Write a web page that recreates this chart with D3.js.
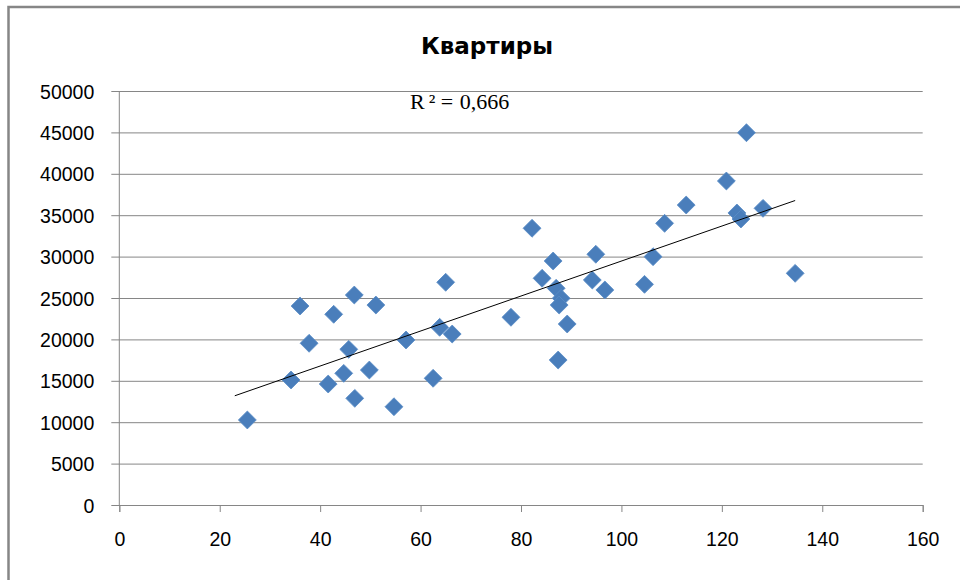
<!DOCTYPE html>
<html>
<head>
<meta charset="utf-8">
<script src="https://cdn.jsdelivr.net/npm/d3@7"></script>
<style>
  html, body { margin: 0; padding: 0; background: #fff; }
  svg { display: block; }
</style>
</head>
<body>
<svg id="chart" width="960" height="580"></svg>
<script>
// ---- data ----
const title = "Квартиры";
const r2Parts = ["R", "²", " = ", "0,666"];
const area = [25.5, 34.2, 36.0, 37.8, 41.6, 42.7, 44.7, 45.7, 46.8, 46.9,
              49.8, 51.1, 54.7, 57.1, 62.5, 63.8, 65.0, 66.3, 78.0, 82.2,
              84.2, 86.4, 87.0, 88.0, 87.6, 89.2, 87.4, 94.2, 94.9, 96.7,
              104.6, 106.3, 108.6, 112.9, 120.9, 124.9, 123.0, 123.8, 128.2, 134.6];
const price = [10270, 15100, 24030, 19530, 14610, 23030, 15900, 18800, 25360, 12880,
               16300, 24150, 11870, 19930, 15300, 21460, 26900, 20650, 22670, 33420,
               27380, 29470, 26170, 24960, 24150, 21860, 17510, 27170, 30280, 25970,
               26650, 29990, 34020, 36230, 39130, 44960, 35270, 34540, 35830, 27980];
const xTicks = [0, 20, 40, 60, 80, 100, 120, 140, 160];
const yTicks = [0, 5000, 10000, 15000, 20000, 25000, 30000, 35000, 40000, 45000, 50000];
const trendStartX = 23;

// ---- layout ----
const svg = d3.select("#chart");
const pL = 119.3, pR = 922.7, pT = 91, pB = 505;
const x = d3.scaleLinear().domain([0, 160]).range([pL, pR]);
const y = d3.scaleLinear().domain([0, 50000]).range([pB, pT]);
const gridColor = "#868686";

// outer chart border (only left and top visible)
svg.append("rect").attr("x", 8.5).attr("y", 7).attr("width", 1000).attr("height", 1000)
  .attr("fill", "none").attr("stroke", gridColor).attr("stroke-width", 2.5);

// title
svg.append("text").attr("x", 487).attr("y", 54).attr("text-anchor", "middle")
  .attr("font-family", "DejaVu Sans").attr("font-weight", "bold").attr("font-size", 23)
  .attr("fill", "#000").text(title);

// y axis with gridlines
const yAxis = d3.axisLeft(y).tickValues(yTicks).tickSize(-(pR - pL)).tickFormat(d3.format("d"));
const gy = svg.append("g").attr("transform", `translate(${pL},0)`).call(yAxis);
gy.select(".domain").remove();
gy.selectAll(".tick line").attr("stroke", gridColor).attr("stroke-width", 1).attr("x1", -8);
gy.selectAll(".tick text").attr("font-family", "Liberation Sans").attr("font-size", 19.5)
  .attr("fill", "#000").attr("x", -25).attr("dy", "0.36em");

// plot area left line
svg.append("line").attr("x1", pL).attr("x2", pL).attr("y1", pT).attr("y2", pB)
  .attr("stroke", gridColor).attr("stroke-width", 1);

// x axis
const xAxis = d3.axisBottom(x).tickValues(xTicks).tickSize(7).tickPadding(20).tickFormat(d3.format("d"));
const gx = svg.append("g").attr("transform", `translate(0,${pB})`).call(xAxis);
gx.select(".domain").attr("stroke", gridColor);
gx.selectAll(".tick line").attr("stroke", gridColor);
gx.selectAll(".tick text").attr("font-family", "Liberation Sans").attr("font-size", 19.5)
  .attr("fill", "#000");

// linear regression
const n = area.length;
const mx = d3.mean(area), my = d3.mean(price);
let sxy = 0, sxx = 0;
for (let i = 0; i < n; i++) { sxy += (area[i] - mx) * (price[i] - my); sxx += (area[i] - mx) ** 2; }
const slope = sxy / sxx, intercept = my - slope * mx;
const xMax = d3.max(area);

// points
const pts = area.map((a, i) => ({ a, p: price[i] }));
svg.append("g").selectAll("path").data(pts).join("path")
  .attr("d", d3.symbol(d3.symbolSquare, 160)())
  .attr("transform", d => `translate(${x(d.a)},${y(d.p)}) rotate(45)`)
  .attr("fill", "#4a7ebb").attr("stroke", "#5a8cc6").attr("stroke-width", 0.8);

// trendline
svg.append("line")
  .attr("x1", x(trendStartX)).attr("y1", y(intercept + slope * trendStartX))
  .attr("x2", x(xMax)).attr("y2", y(intercept + slope * xMax))
  .attr("stroke", "#000").attr("stroke-width", 1);

// R² label
const r2 = svg.append("text").attr("x", 410).attr("y", 109)
  .attr("font-family", "Liberation Serif").attr("font-size", 22).attr("fill", "#000")
  .attr("xml:space", "preserve").style("white-space", "pre");
const r2dx = [0, 4, 0, 1];
r2Parts.forEach((t, i) => r2.append("tspan").attr("dx", r2dx[i]).text(t));
</script>
</body>
</html>
